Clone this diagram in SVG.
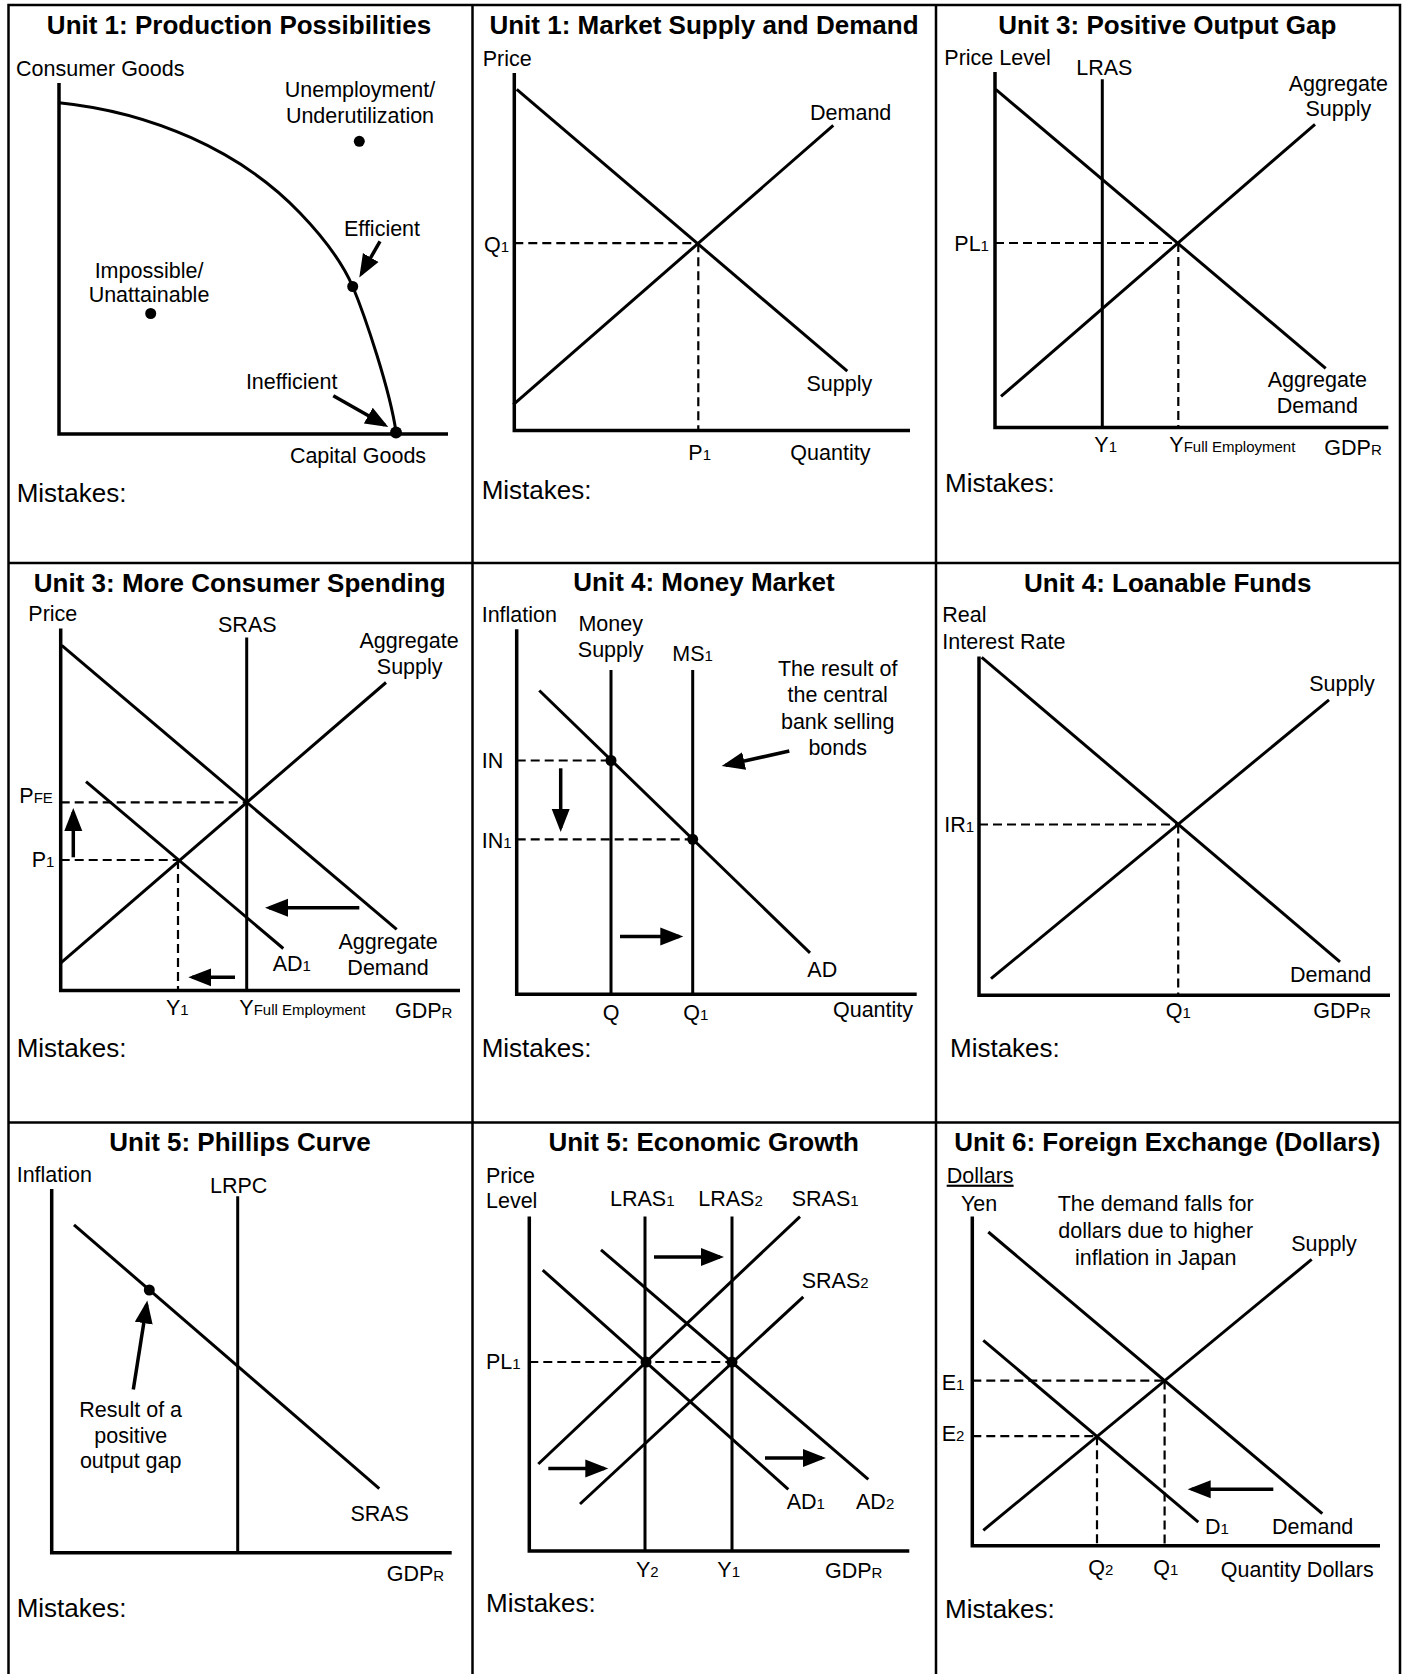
<svg xmlns="http://www.w3.org/2000/svg" width="1405" height="1674" viewBox="0 0 1405 1674">
<defs>
<style>
text{font-family:"Liberation Sans",Arial,sans-serif;fill:#000}
.t{font-size:26px;font-weight:bold;text-anchor:middle}
.l{font-size:21.5px}
.c{text-anchor:middle}
.m{font-size:26px}
.s{font-size:15px}
.ax{stroke:#000;stroke-width:3.5;fill:none;stroke-linejoin:miter}
.cv{stroke:#000;stroke-width:3;fill:none}
.ds{stroke:#000;stroke-width:2.2;stroke-dasharray:9 5;fill:none}
.ar{stroke:#000;stroke-width:3.5;fill:none;marker-end:url(#ah)}
.grid{stroke:#000;stroke-width:2.5;fill:none}
</style>
<marker id="ah" markerUnits="userSpaceOnUse" markerWidth="24" markerHeight="20" viewBox="0 0 24 20" refX="19" refY="10" orient="auto"><path d="M0,1 L23,10 L0,19 z" fill="#000"/></marker>
</defs>
<rect width="1405" height="1674" fill="#fff"/>
<g id="grid">
<rect class="grid" x="8.5" y="5" width="1391.5" height="1690"/>
<line class="grid" x1="472.5" y1="5" x2="472.5" y2="1674"/>
<line class="grid" x1="936" y1="5" x2="936" y2="1674"/>
<line class="grid" x1="8.5" y1="563" x2="1400" y2="563"/>
<line class="grid" x1="8.5" y1="1122.5" x2="1400" y2="1122.5"/>
</g>

<g id="panel-ppf">
<text class="t" x="239" y="34">Unit 1: Production Possibilities</text>
<polyline class="ax" points="59,83 59,434 448,434"/>
<path class="cv" d="M59,102.7 C150,112 240,150 300,213 C326,240 342,262 352.7,286.5 C365,316 390,390 396,432"/>
<circle cx="359.3" cy="141.3" r="5.5"/>
<circle cx="150.7" cy="313.5" r="5.5"/>
<circle cx="352.7" cy="286.5" r="5.5"/>
<circle cx="396" cy="432.4" r="6"/>
<g class="arrows">
<line class="ar" x1="380" y1="241.4" x2="361.3" y2="274"/>
<line class="ar" x1="333.3" y1="395.7" x2="384.8" y2="425"/>
</g>
<text class="l" x="16" y="76">Consumer Goods</text>
<text class="l c" x="360" y="97">Unemployment/</text>
<text class="l c" x="360" y="122.5">Underutilization</text>
<text class="l c" x="382" y="236">Efficient</text>
<text class="l c" x="149" y="277.5">Impossible/</text>
<text class="l c" x="149" y="302">Unattainable</text>
<text class="l c" x="291.7" y="389">Inefficient</text>
<text class="l c" x="358" y="463">Capital Goods</text>
<text class="m" x="16.7" y="501.6">Mistakes:</text>
</g>

<g id="panel-market">
<text class="t" x="704" y="34">Unit 1: Market Supply and Demand</text>
<polyline class="ax" points="514.3,73 514.3,430.6 910,430.6"/>
<line class="cv" x1="516.7" y1="89.4" x2="847.3" y2="371.2"/>
<line class="cv" x1="513.3" y1="404.7" x2="833.3" y2="125.4"/>
<line class="ds" x1="514.3" y1="243.2" x2="698.3" y2="243.2"/>
<line class="ds" x1="698.3" y1="243.2" x2="698.3" y2="430.6"/>
<text class="l" x="482.7" y="66">Price</text>
<text class="l" x="484" y="252.3">Q<tspan class="s">1</tspan></text>
<text class="l c" x="850.7" y="120">Demand</text>
<text class="l c" x="839.3" y="391">Supply</text>
<text class="l" x="688.3" y="459.5">P<tspan class="s">1</tspan></text>
<text class="l c" x="830.4" y="459.5">Quantity</text>
<text class="m" x="481.7" y="499">Mistakes:</text>
</g>

<g id="panel-gap">
<text class="t" x="1167.3" y="34">Unit 3: Positive Output Gap</text>
<polyline class="ax" points="995,72 995,427.5 1388.3,427.5"/>
<line class="cv" x1="1102.3" y1="79.3" x2="1102.3" y2="427.5"/>
<line class="cv" x1="995.7" y1="89.4" x2="1325.7" y2="368.3"/>
<line class="cv" x1="1001" y1="396.4" x2="1315" y2="124.3"/>
<line class="ds" x1="995" y1="243" x2="1178.3" y2="243"/>
<line class="ds" x1="1178.3" y1="243" x2="1178.3" y2="427.5"/>
<text class="l" x="944.3" y="64.9">Price Level</text>
<text class="l c" x="1104.3" y="75">LRAS</text>
<text class="l" x="954.3" y="250.5">PL<tspan class="s">1</tspan></text>
<text class="l c" x="1338.3" y="90.8">Aggregate</text>
<text class="l c" x="1338.3" y="116">Supply</text>
<text class="l c" x="1317.3" y="387.4">Aggregate</text>
<text class="l c" x="1317.3" y="412.6">Demand</text>
<text class="l" x="1094.3" y="452.3">Y<tspan class="s">1</tspan></text>
<text class="l" x="1169.3" y="452.3">Y<tspan class="s">Full Employment</tspan></text>
<text class="l" x="1324.3" y="454.8">GDP<tspan class="s">R</tspan></text>
<text class="m" x="945" y="492">Mistakes:</text>
</g>

<g id="panel-spending">
<text class="t" x="239.7" y="591.7">Unit 3: More Consumer Spending</text>
<polyline class="ax" points="60.7,628.5 60.7,990.6 460,990.6"/>
<line class="cv" x1="246.7" y1="637.5" x2="246.7" y2="990.6"/>
<line class="cv" x1="61.7" y1="645.4" x2="396.7" y2="929.4"/>
<line class="cv" x1="60" y1="963.6" x2="386" y2="682.5"/>
<line class="cv" x1="86" y1="781.6" x2="283.3" y2="948.5"/>
<line class="ds" x1="60.7" y1="802.4" x2="246.7" y2="802.4"/>
<line class="ds" x1="60.7" y1="860" x2="178" y2="860"/>
<line class="ds" x1="178" y1="860" x2="178" y2="990.6"/>
<g class="arrows">
<line class="ar" x1="73.3" y1="857.3" x2="73.3" y2="812"/>
<line class="ar" x1="359.3" y1="907.8" x2="269" y2="907.8"/>
<line class="ar" x1="235" y1="977.3" x2="192.3" y2="977.3"/>
</g>
<text class="l" x="28.3" y="621.3">Price</text>
<text class="l c" x="247.3" y="632">SRAS</text>
<text class="l c" x="409" y="648.3">Aggregate</text>
<text class="l c" x="409.7" y="673.5">Supply</text>
<text class="l" x="19.3" y="803">P<tspan class="s">FE</tspan></text>
<text class="l" x="31.7" y="867">P<tspan class="s">1</tspan></text>
<text class="l c" x="388" y="949.2">Aggregate</text>
<text class="l c" x="388" y="975.1">Demand</text>
<text class="l" x="272.7" y="970.8">AD<tspan class="s">1</tspan></text>
<text class="l" x="166" y="1014.8">Y<tspan class="s">1</tspan></text>
<text class="l" x="239.3" y="1014.8">Y<tspan class="s">Full Employment</tspan></text>
<text class="l" x="395" y="1017.7">GDP<tspan class="s">R</tspan></text>
<text class="m" x="16.7" y="1057.3">Mistakes:</text>
</g>

<g id="panel-money">
<text class="t" x="704" y="590.6">Unit 4: Money Market</text>
<polyline class="ax" points="516.7,629.2 516.7,994.2 916.7,994.2"/>
<line class="cv" x1="611" y1="670" x2="611" y2="994.2"/>
<line class="cv" x1="692.7" y1="670" x2="692.7" y2="994.2"/>
<line class="cv" x1="539.3" y1="690.5" x2="810" y2="952.8"/>
<circle cx="611" cy="760.5" r="5.5"/>
<circle cx="692.7" cy="839.3" r="5.5"/>
<line class="ds" x1="516.7" y1="760.5" x2="611" y2="760.5"/>
<line class="ds" x1="516.7" y1="839.3" x2="692.7" y2="839.3"/>
<g class="arrows">
<line class="ar" x1="560.7" y1="768.3" x2="560.7" y2="828"/>
<line class="ar" x1="620" y1="936.6" x2="679.3" y2="936.6"/>
<line class="ar" x1="789.3" y1="751" x2="725.6" y2="765.2"/>
</g>
<text class="l" x="481.7" y="622">Inflation</text>
<text class="l c" x="610.7" y="631.4">Money</text>
<text class="l c" x="610.7" y="656.6">Supply</text>
<text class="l" x="672.3" y="661">MS<tspan class="s">1</tspan></text>
<text class="l c" x="837.7" y="676">The result of</text>
<text class="l c" x="837.7" y="702.3">the central</text>
<text class="l c" x="837.7" y="728.6">bank selling</text>
<text class="l c" x="837.7" y="754.6">bonds</text>
<text class="l" x="481.7" y="768.3">IN</text>
<text class="l" x="481.7" y="848.3">IN<tspan class="s">1</tspan></text>
<text class="l" x="807.3" y="977.3">AD</text>
<text class="l c" x="611" y="1019.5">Q</text>
<text class="l" x="683.3" y="1019.5">Q<tspan class="s">1</tspan></text>
<text class="l c" x="873" y="1017">Quantity</text>
<text class="m" x="481.7" y="1057.3">Mistakes:</text>
</g>

<g id="panel-loanable">
<text class="t" x="1167.7" y="591.7">Unit 4: Loanable Funds</text>
<polyline class="ax" points="979,656.6 979,995.3 1390,995.3"/>
<line class="cv" x1="981.7" y1="657.3" x2="1340" y2="961.8"/>
<line class="cv" x1="991" y1="978.7" x2="1329" y2="699.8"/>
<line class="ds" x1="979" y1="824.5" x2="1178.2" y2="824.5"/>
<line class="ds" x1="1178.2" y1="824.5" x2="1178.2" y2="995.3"/>
<text class="l" x="942.3" y="622">Real</text>
<text class="l" x="942.3" y="649.4">Interest Rate</text>
<text class="l" x="944.3" y="832">IR<tspan class="s">1</tspan></text>
<text class="l c" x="1342" y="690.5">Supply</text>
<text class="l c" x="1330.7" y="982.3">Demand</text>
<text class="l" x="1165.7" y="1017.7">Q<tspan class="s">1</tspan></text>
<text class="l" x="1313.3" y="1018.4">GDP<tspan class="s">R</tspan></text>
<text class="m" x="950" y="1056.6">Mistakes:</text>
</g>

<g id="panel-phillips">
<text class="t" x="240" y="1150.7">Unit 5: Phillips Curve</text>
<polyline class="ax" points="51.7,1189 51.7,1552.8 451.7,1552.8"/>
<line class="cv" x1="237.7" y1="1196.3" x2="237.7" y2="1552.8"/>
<line class="cv" x1="74" y1="1224.8" x2="379.3" y2="1488.6"/>
<circle cx="149.3" cy="1290" r="5.5"/>
<g class="arrows">
<line class="ar" x1="133.3" y1="1389.5" x2="146.7" y2="1304.4"/>
</g>
<text class="l" x="16.7" y="1182">Inflation</text>
<text class="l c" x="238.7" y="1192.7">LRPC</text>
<text class="l c" x="130.7" y="1417.3">Result of a</text>
<text class="l c" x="130.7" y="1443">positive</text>
<text class="l c" x="130.7" y="1468">output gap</text>
<text class="l c" x="379.7" y="1520.7">SRAS</text>
<text class="l" x="386.7" y="1581.3">GDP<tspan class="s">R</tspan></text>
<text class="m" x="16.7" y="1617">Mistakes:</text>
</g>

<g id="panel-growth">
<text class="t" x="703.7" y="1150.7">Unit 5: Economic Growth</text>
<polyline class="ax" points="529.3,1216.6 529.3,1551 909.3,1551"/>
<line class="cv" x1="645" y1="1216.6" x2="645" y2="1551"/>
<line class="cv" x1="732" y1="1216.6" x2="732" y2="1551"/>
<line class="cv" x1="538.3" y1="1464" x2="800" y2="1216.6"/>
<line class="cv" x1="580" y1="1504" x2="803.3" y2="1296.8"/>
<line class="cv" x1="542.7" y1="1270.1" x2="788.3" y2="1489.3"/>
<line class="cv" x1="601" y1="1249.8" x2="868.3" y2="1479.3"/>
<line class="ds" x1="529.3" y1="1362" x2="732" y2="1362"/>
<circle cx="646" cy="1362" r="5.5"/>
<circle cx="732" cy="1362" r="5.5"/>
<g class="arrows">
<line class="ar" x1="654" y1="1256.9" x2="720" y2="1256.9"/>
<line class="ar" x1="548.3" y1="1468.6" x2="604.3" y2="1468.6"/>
<line class="ar" x1="765" y1="1458" x2="822" y2="1458"/>
</g>
<text class="l" x="486" y="1182.7">Price</text>
<text class="l" x="486" y="1208.4">Level</text>
<text class="l" x="610" y="1205.9">LRAS<tspan class="s">1</tspan></text>
<text class="l" x="698.3" y="1205.9">LRAS<tspan class="s">2</tspan></text>
<text class="l" x="791.7" y="1205.9">SRAS<tspan class="s">1</tspan></text>
<text class="l" x="801.7" y="1287.9">SRAS<tspan class="s">2</tspan></text>
<text class="l" x="486" y="1368.8">PL<tspan class="s">1</tspan></text>
<text class="l" x="786.7" y="1509">AD<tspan class="s">1</tspan></text>
<text class="l" x="856" y="1509">AD<tspan class="s">2</tspan></text>
<text class="l" x="636" y="1576.7">Y<tspan class="s">2</tspan></text>
<text class="l" x="717.3" y="1576.7">Y<tspan class="s">1</tspan></text>
<text class="l" x="825" y="1577.7">GDP<tspan class="s">R</tspan></text>
<text class="m" x="486" y="1612.3">Mistakes:</text>
</g>

<g id="panel-forex">
<text class="t" x="1167.3" y="1150.7">Unit 6: Foreign Exchange (Dollars)</text>
<polyline class="ax" points="972.3,1216.6 972.3,1545.7 1380,1545.7"/>
<line class="cv" x1="988.3" y1="1232" x2="1322.3" y2="1513.6"/>
<line class="cv" x1="983.3" y1="1340.3" x2="1198.3" y2="1522.1"/>
<line class="cv" x1="983.3" y1="1530.3" x2="1311.7" y2="1259.4"/>
<line class="ds" x1="972.3" y1="1380.6" x2="1164.6" y2="1380.6"/>
<line class="ds" x1="972.3" y1="1436.2" x2="1097" y2="1436.2"/>
<line class="ds" x1="1097" y1="1436.2" x2="1097" y2="1545.7"/>
<line class="ds" x1="1164.6" y1="1380.6" x2="1164.6" y2="1545.7"/>
<g class="arrows">
<line class="ar" x1="1273.3" y1="1489.3" x2="1191.7" y2="1489.3"/>
</g>
<text class="l" x="946.7" y="1182.7" text-decoration="underline">Dollars</text>
<text class="l" x="961" y="1210.5">Yen</text>
<text class="l c" x="1155.7" y="1210.5">The demand falls for</text>
<text class="l c" x="1155.7" y="1238">dollars due to higher</text>
<text class="l c" x="1155.7" y="1264.7">inflation in Japan</text>
<text class="l c" x="1324" y="1250.5">Supply</text>
<text class="l" x="941.7" y="1390.2">E<tspan class="s">1</tspan></text>
<text class="l" x="941.7" y="1441.2">E<tspan class="s">2</tspan></text>
<text class="l" x="1205" y="1533.9">D<tspan class="s">1</tspan></text>
<text class="l c" x="1312.7" y="1533.9">Demand</text>
<text class="l" x="1088.3" y="1574.9">Q<tspan class="s">2</tspan></text>
<text class="l" x="1153.3" y="1574.9">Q<tspan class="s">1</tspan></text>
<text class="l c" x="1297.3" y="1576.7">Quantity Dollars</text>
<text class="m" x="945" y="1617.7">Mistakes:</text>
</g>
</svg>
